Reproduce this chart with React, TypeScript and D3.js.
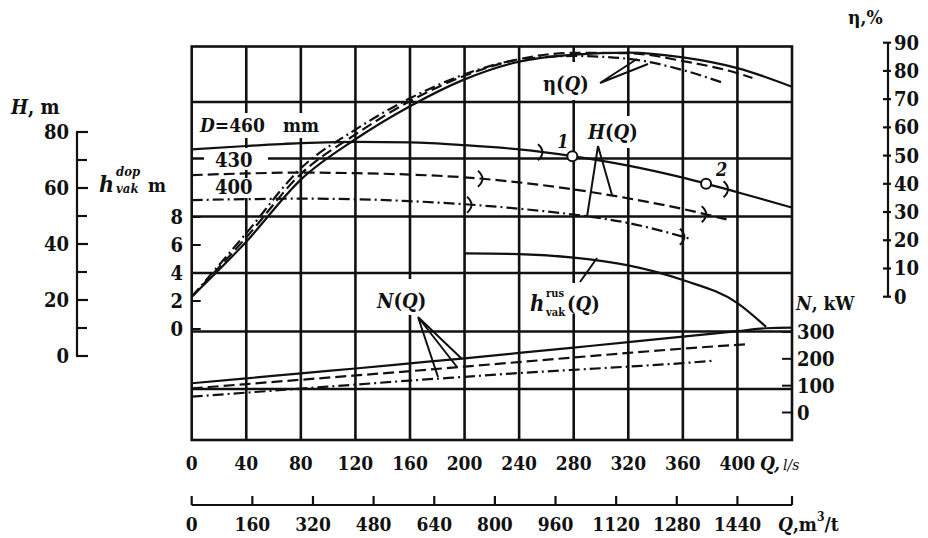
import React from 'react';
import * as d3 from 'd3';

// ---------- tick values ----------
const Q_TICKS = [0, 40, 80, 120, 160, 200, 240, 280, 320, 360, 400];
const Q_GRID = [40, 80, 120, 160, 200, 240, 280, 320, 360, 400];
const M3_TICKS = [0, 160, 320, 480, 640, 800, 960, 1120, 1280, 1440];
const H_TICKS = [0, 20, 40, 60, 80];
const H_MINOR = [10, 30, 50, 70];
const HV_TICKS = [0, 2, 4, 6, 8];
const ETA_TICKS = [0, 10, 20, 30, 40, 50, 60, 70, 80, 90];
const N_TICKS = [0, 100, 200, 300];

// ---------- H(Q) curves, m ----------
const Q_H460 = [0, 40, 80, 120, 160, 200, 240, 280, 320, 360, 400, 440];
const H_460 = [73.8, 75.0, 76.0, 76.5, 76.3, 75.3, 73.8, 71.3, 68.0, 63.7, 58.5, 53.0];
const Q_H430 = [0, 40, 80, 120, 160, 200, 240, 280, 320, 360, 392];
const H_430 = [64.6, 65.2, 65.5, 65.3, 64.8, 63.8, 62.0, 59.5, 56.3, 52.5, 48.8];
const Q_H400 = [0, 40, 80, 120, 160, 200, 240, 280, 320, 360, 365];
const H_400 = [55.7, 56.0, 56.2, 56.0, 55.3, 54.2, 52.6, 50.5, 47.5, 42.6, 41.9];
const MARK_460 = [256, 392];
const MARK_430 = [212, 376];
const MARK_400 = [204, 360];
const POINTS_Q = [279, 377];
const POINT_LABELS = ['1', '2'];

// ---------- η(Q) curves, % ----------
const Q_E460 = [0, 40, 80, 120, 160, 200, 240, 280, 320, 360, 400, 440];
const E_460 = [0, 19.5, 41.5, 55.8, 67.5, 77.0, 83.3, 85.8, 86.5, 84.8, 81.0, 74.4];
const Q_E430 = [0, 40, 80, 120, 160, 200, 240, 280, 320, 360, 400, 411];
const E_430 = [0, 21.0, 43.5, 57.5, 69.3, 78.3, 84.2, 86.4, 86.3, 83.5, 79.2, 77.5];
const Q_E400 = [0, 40, 80, 120, 160, 200, 240, 280, 320, 360, 390];
const E_400 = [0, 22.5, 45.5, 59.2, 70.3, 78.8, 84.0, 85.3, 84.3, 80.3, 75.7];

// ---------- N(Q) curves, kW ----------
const Q_N460 = [0, 40, 80, 120, 160, 200, 240, 280, 320, 360, 400, 421, 440];
const N_460 = [109, 127, 146, 164, 183, 202, 222, 242, 262, 283, 303, 314, 316];
const Q_N430 = [0, 40, 80, 120, 160, 200, 240, 280, 320, 360, 409];
const N_430 = [90, 106, 122, 138, 154, 171, 188, 205, 222, 238, 255];
const Q_N400 = [0, 40, 80, 120, 160, 200, 240, 280, 320, 360, 382];
const N_400 = [59, 74, 89, 104, 119, 133, 147, 159, 171, 184, 193];

// ---------- h_vak max(Q), m ----------
const Q_HV = [200, 240, 280, 320, 360, 400, 421];
const HV_MAX = [5.4, 5.35, 5.1, 4.55, 3.5, 1.85, 0.15];

// ---------- layout ----------
const W = 928;
const H = 538;
const LEFT = 191.7;
const RIGHT = 792;
const TOP = 46.5;
const BOTTOM = 440;
const GRID_ROWS = [102, 158.5, 216.5, 273, 331.5, 389];
const FONT = "'DejaVu Serif', serif";
const DASH = '11 5';
const DASHDOT = '11 4 2 4';

const x = d3.scaleLinear().domain([0, 440]).range([LEFT, RIGHT]);
const xM3 = d3.scaleLinear().domain([0, 1584]).range([LEFT, RIGHT]);
const yH = d3.scaleLinear().domain([0, 80]).range([356, 132]);
const yHv = d3.scaleLinear().domain([0, 8]).range([329, 217]);
const yEta = d3.scaleLinear().domain([0, 90]).range([296.7, 42.7]);
const yN = d3.scaleLinear().domain([0, 300]).range([412.5, 332]);

function pathOf(qs: number[], vs: number[], ys: (v: number) => number) {
  const gen = d3
    .line<number>()
    .x((_, i) => x(qs[i]))
    .y((v) => ys(v))
    .curve(d3.curveMonotoneX);
  return gen(vs) || '';
}

function interp(qs: number[], vs: number[], q: number) {
  for (let i = 0; i < qs.length - 1; i++) {
    if (q >= qs[i] && q <= qs[i + 1]) {
      const t = (q - qs[i]) / (qs[i + 1] - qs[i]);
      return vs[i] + t * (vs[i + 1] - vs[i]);
    }
  }
  return vs[vs.length - 1];
}

function Marker({ q, qs, vs }: { q: number; qs: number[]; vs: number[] }) {
  const px = x(q);
  const py = yH(interp(qs, vs, q));
  return (
    <path
      d={`M${px - 3},${py - 8} Q${px + 6},${py} ${px - 3},${py + 8}`}
      fill="none"
      stroke="#111"
      strokeWidth={2}
    />
  );
}

const txt = {
  fontFamily: FONT,
  fontWeight: 700,
  fill: '#111',
  style: { fontStretch: 'condensed' as const },
};

export default function App() {
  return (
    <svg
      width={W}
      height={H}
      viewBox={`0 0 ${W} ${H}`}
      style={{ position: 'absolute', left: 0, top: 0, background: '#fff' }}
    >
      <rect x={0} y={0} width={W} height={H} fill="#fff" />
      {/* grid */}
      <g stroke="#111" strokeWidth={2.6}>
        {Q_GRID.map((q) => (
          <line key={'v' + q} x1={x(q)} x2={x(q)} y1={TOP} y2={BOTTOM} />
        ))}
        {GRID_ROWS.map((gy) => (
          <line key={'h' + gy} x1={LEFT} x2={RIGHT} y1={gy} y2={gy} />
        ))}
        <rect x={LEFT} y={TOP} width={RIGHT - LEFT} height={BOTTOM - TOP} fill="none" />
      </g>

      {/* white knock-outs behind labels */}
      <g fill="#fff">
        <rect x={197} y={113} width={134} height={25} />
        <rect x={204} y={148} width={64} height={22} />
        <rect x={208} y={178} width={50} height={20} />
        <rect x={540} y={62} width={60} height={38} />
        <rect x={585} y={116} width={62} height={32} />
        <rect x={373} y={279} width={64} height={36} />
        <rect x={529} y={283} width={84} height={31} />
      </g>

      {/* h_vak dop axis ticks on left frame */}
      <g stroke="#111" strokeWidth={2}>
        {HV_TICKS.map((v) => (
          <line key={'hv' + v} x1={LEFT} x2={LEFT + 9} y1={yHv(v)} y2={yHv(v)} />
        ))}
      </g>
      {/* N axis ticks on right frame */}
      <g stroke="#111" strokeWidth={2}>
        {N_TICKS.map((v) => (
          <line key={'nt' + v} x1={RIGHT - 10} x2={RIGHT} y1={yN(v)} y2={yN(v)} />
        ))}
      </g>

      {/* curves */}
      <g fill="none" stroke="#111" strokeWidth={2.2}>
        <path d={pathOf(Q_E460, E_460, yEta)} />
        <path d={pathOf(Q_E430, E_430, yEta)} strokeDasharray={DASH} />
        <path d={pathOf(Q_E400, E_400, yEta)} strokeDasharray={DASHDOT} />
        <path d={pathOf(Q_H460, H_460, yH)} />
        <path d={pathOf(Q_H430, H_430, yH)} strokeDasharray={DASH} />
        <path d={pathOf(Q_H400, H_400, yH)} strokeDasharray={DASHDOT} />
        <path d={pathOf(Q_N460, N_460, yN)} />
        <path d={pathOf(Q_N430, N_430, yN)} strokeDasharray={DASH} />
        <path d={pathOf(Q_N400, N_400, yN)} strokeDasharray={DASHDOT} />
        <path d={pathOf(Q_HV, HV_MAX, yHv)} />
      </g>

      {/* operating range markers */}
      {MARK_460.map((q) => (
        <Marker key={'m460' + q} q={q} qs={Q_H460} vs={H_460} />
      ))}
      {MARK_430.map((q) => (
        <Marker key={'m430' + q} q={q} qs={Q_H430} vs={H_430} />
      ))}
      {MARK_400.map((q) => (
        <Marker key={'m400' + q} q={q} qs={Q_H400} vs={H_400} />
      ))}

      {/* points 1, 2 */}
      {POINTS_Q.map((q, i) => {
        const px = x(q);
        const py = yH(interp(Q_H460, H_460, q));
        return (
          <g key={'p' + i}>
            <circle cx={px} cy={py} r={5} fill="#fff" stroke="#111" strokeWidth={2} />
            <text x={px + (i === 0 ? -15 : 10)} y={py - 8} {...txt} fontSize={18} fontStyle="italic">
              {POINT_LABELS[i]}
            </text>
          </g>
        );
      })}

      {/* leader lines */}
      <g stroke="#111" strokeWidth={2} fill="none">
        <path d="M600,83 L637,59 M600,83 L648,64" />
        <path d="M598,146 L587,217 M598,146 L612,195" />
        <path d="M418,317 L462,359 M418,317 L457,367 M418,317 L438,377" />
        <path d="M580,282 L597,258" />
      </g>

      {/* in-plot labels */}
      <text x={200} y={132} {...txt} fontSize={19}>
        <tspan fontStyle="italic">D</tspan>=460
      </text>
      <text x={283} y={132} {...txt} fontSize={19}>mm</text>
      <text x={215} y={167} {...txt} fontSize={20}>430</text>
      <text x={215} y={194} {...txt} fontSize={20}>400</text>
      <text x={543} y={91} {...txt} fontSize={20}>
        η(<tspan fontStyle="italic">Q</tspan>)
      </text>
      <text x={588} y={139} {...txt} fontSize={20}>
        <tspan fontStyle="italic">H</tspan>(<tspan fontStyle="italic">Q</tspan>)
      </text>
      <text x={377} y={308} {...txt} fontSize={20}>
        <tspan fontStyle="italic">N</tspan>(<tspan fontStyle="italic">Q</tspan>)
      </text>
      <text x={530} y={311} {...txt} fontSize={22} fontStyle="italic">h</text>
      <text x={546} y={297} {...txt} fontSize={11}>rus</text>
      <text x={546} y={316} {...txt} fontSize={11}>vak</text>
      <text x={567} y={311} {...txt} fontSize={20}>
        (<tspan fontStyle="italic">Q</tspan>)
      </text>

      {/* left H axis */}
      <g stroke="#111" strokeWidth={2.2}>
        <line x1={77} x2={77} y1={yH(80)} y2={yH(0)} />
        {H_TICKS.map((v) => (
          <line key={'ht' + v} x1={76} x2={88} y1={yH(v)} y2={yH(v)} />
        ))}
        {H_MINOR.map((v) => (
          <line key={'hm' + v} x1={76} x2={87} y1={yH(v)} y2={yH(v)} />
        ))}
      </g>
      {H_TICKS.map((v) => (
        <text key={'hl' + v} x={69} y={yH(v) + 7} textAnchor="end" {...txt} fontSize={20}>
          {v}
        </text>
      ))}
      <text x={11} y={114} {...txt} fontSize={20}>
        <tspan fontStyle="italic">H</tspan>, m
      </text>
      {HV_TICKS.map((v) => (
        <text key={'hvl' + v} x={183} y={yHv(v) + 7} textAnchor="end" {...txt} fontSize={20}>
          {v}
        </text>
      ))}
      <text x={99} y={192} {...txt} fontSize={23} fontStyle="italic">h</text>
      <text x={116} y={176} {...txt} fontSize={13} fontStyle="italic">dop</text>
      <text x={116} y={193} {...txt} fontSize={13} fontStyle="italic">vak</text>
      <text x={148} y={192} {...txt} fontSize={19}>m</text>

      {/* right eta axis */}
      <g stroke="#111" strokeWidth={2.2}>
        <line x1={888} x2={888} y1={yEta(90)} y2={yEta(0)} />
        {ETA_TICKS.map((v) => (
          <line key={'et' + v} x1={883} x2={891} y1={yEta(v)} y2={yEta(v)} />
        ))}
      </g>
      {ETA_TICKS.map((v) => (
        <text key={'el' + v} x={894} y={yEta(v) + 7} {...txt} fontSize={20}>
          {v}
        </text>
      ))}
      <text x={848} y={24} {...txt} fontSize={19}>η,%</text>

      {/* N axis labels */}
      {N_TICKS.map((v) => (
        <text key={'nl' + v} x={797} y={yN(v) + 7} {...txt} fontSize={20}>
          {v}
        </text>
      ))}
      <text x={796} y={310} {...txt} fontSize={19}>
        <tspan fontStyle="italic">N</tspan>, kW
      </text>

      {/* bottom Q axis, l/s */}
      {Q_TICKS.map((q) => (
        <text key={'ql' + q} x={x(q)} y={470} textAnchor="middle" {...txt} fontSize={19}>
          {q}
        </text>
      ))}
      <text x={760} y={470} {...txt} fontSize={19} fontStyle="italic">Q,</text>
      <text x={783} y={470} fontFamily={FONT} fontSize={14} fontStyle="italic" fill="#111">
        l/s
      </text>

      {/* second Q axis, m3/t */}
      <g stroke="#111" strokeWidth={2.2}>
        <line x1={LEFT} x2={RIGHT} y1={505} y2={505} />
        {M3_TICKS.map((v) => (
          <line key={'mt' + v} x1={xM3(v)} x2={xM3(v)} y1={496} y2={505} />
        ))}
        <line x1={RIGHT} x2={RIGHT} y1={496} y2={505} />
      </g>
      {M3_TICKS.map((v) => (
        <text key={'ml' + v} x={xM3(v)} y={531} textAnchor="middle" {...txt} fontSize={19}>
          {v}
        </text>
      ))}
      <text x={778} y={531} {...txt} fontSize={19}>
        <tspan fontStyle="italic">Q</tspan>,m
        <tspan dy={-10} fontSize={12}>3</tspan>
        <tspan dy={10}>/t</tspan>
      </text>
    </svg>
  );
}
